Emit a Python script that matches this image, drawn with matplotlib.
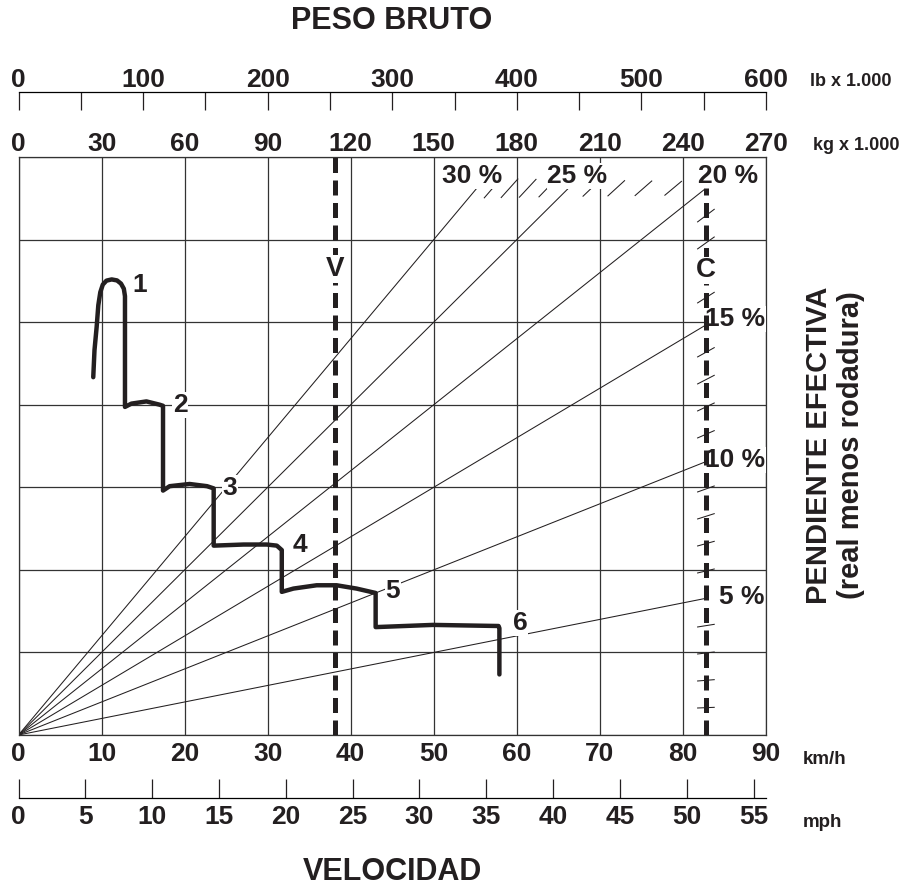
import numpy as np
import matplotlib.pyplot as plt

plt.rcParams['font.family'] = ['Liberation Sans', 'DejaVu Sans']
plt.rcParams['font.weight'] = 'bold'
ink = '#231f20'

# horizontal position: speed (km/h); the same position is gross weight, 30 kg x 1000 per 10 km/h
kmh_ticks = [0, 10, 20, 30, 40, 50, 60, 70, 80, 90]
kg_ticks = [0, 30, 60, 90, 120, 150, 180, 210, 240, 270]
lb_ticks = [0, 50, 100, 150, 200, 250, 300, 350, 400, 450, 500, 550, 600]
lb_labels = ['0', '', '100', '', '200', '', '300', '', '400', '', '500', '', '600']
mph_ticks = [0, 5, 10, 15, 20, 25, 30, 35, 40, 45, 50, 55]
# vertical: rimpull, kg x 1000 (grid every 7.5)
fuerza_ticks = [0, 7.5, 15, 22.5, 30, 37.5, 45, 52.5]

grades = [5, 10, 15, 20, 25, 30]
grade_marks = [1, 2, 3, 4, 6, 7, 8, 9, 11, 12, 13, 14, 16, 17, 18, 19,
               21, 22, 23, 24, 26, 27, 28, 29]
peso_vacio = 114.5     # V, kg x 1000
peso_cargado = 248.3   # C, kg x 1000
kg_por_lb = 0.45       # the chart's own lb scale puts 600 lb at 270 kg

# gear curve (km/h, rimpull kg x 1000)
gear_kmh = [9.0, 9.15, 9.41, 9.61, 9.85, 10.15, 10.59, 11.22, 11.86, 12.34,
            12.68, 12.82, 12.82,
            13.6, 15.4, 17.0, 17.4, 17.4,
            18.2, 20.6, 22.7, 23.5, 23.5,
            27.1, 29.9, 31.1, 31.7, 31.7,
            33.1, 35.9, 38.3, 40.7, 43.0, 43.0,
            49.9, 57.8, 57.9, 57.9]
gear_fuerza = [32.5, 34.96, 37.07, 39.04, 40.22, 40.91, 41.27, 41.38, 41.29,
               41.0, 40.54, 39.86, 29.8,
               30.1, 30.3, 30.0, 29.9, 22.2,
               22.6, 22.8, 22.6, 22.4, 17.2,
               17.3, 17.3, 17.2, 16.8, 13.0,
               13.3, 13.6, 13.6, 13.3, 12.9, 9.8,
               10.0, 9.9, 9.7, 5.5]
gear_names = ['1', '2', '3', '4', '5', '6']


def kmh_to_kg(x):
    return np.asarray(x) * 3.0


def kg_to_kmh(w):
    return np.asarray(w) / 3.0


def kmh_to_lb(x):
    return np.asarray(x) * 3.0 / kg_por_lb


def lb_to_kmh(p):
    return np.asarray(p) * kg_por_lb / 3.0


def kmh_to_mph(x):
    return np.asarray(x) / 1.609344


def mph_to_kmh(m):
    return np.asarray(m) * 1.609344


W, H = 909, 888
fig = plt.figure(figsize=(W / 100, H / 100), dpi=100)
ax = fig.add_axes([18.5 / W, (H - 735) / H, (766 - 18.5) / W, (735 - 157) / H])
ax.set_xlim(0, 90)
ax.set_ylim(0, 52.5)
ax.set_xticks(kmh_ticks)
ax.set_yticks(fuerza_ticks)
ax.set_yticklabels([])
ax.tick_params(axis='x', length=0, pad=5, labelsize=19, colors=ink)
ax.tick_params(axis='y', length=0)
ax.grid(True, color='#333333', lw=0.9, zorder=1)
for s in ax.spines.values():
    s.set_linewidth(0.9)
    s.set_color('#333333')

# top scales
sec_kg = ax.secondary_xaxis('top', functions=(kmh_to_kg, kg_to_kmh))
sec_kg.set_xticks(kg_ticks)
sec_kg.tick_params(length=0, pad=1, labelsize=19, colors=ink)
sec_kg.spines['top'].set_visible(False)

sec_lb = ax.secondary_xaxis(1 + 65 / 578, functions=(kmh_to_lb, lb_to_kmh))
sec_lb.set_xticks(lb_ticks, labels=lb_labels)
sec_lb.tick_params(direction='in', length=13, width=0.9, pad=0, labelsize=19,
                   colors=ink)
sec_lb.spines['top'].set_linewidth(0.9)

# bottom mph scale
sec_mph = ax.secondary_xaxis(-63 / 578, functions=(kmh_to_mph, mph_to_kmh))
sec_mph.set_xticks(mph_ticks)
sec_mph.tick_params(direction='in', length=14, width=0.9, pad=5, labelsize=19,
                    colors=ink)
sec_mph.spines['bottom'].set_linewidth(0.9)

# grade lines from the origin, rimpull = grade x weight
for g in grades:
    w_end = peso_cargado * min(1.0, 20.0 / g)
    w = np.array([0.0, w_end])
    ax.plot(kg_to_kmh(w), g / 100 * w, color=ink, lw=0.75, zorder=2)

# 1 % marks along C and along the 20 % level
for g in grade_marks:
    if g < 20:
        w0 = peso_cargado
    else:
        w0 = 0.2 * peso_cargado / (g / 100)
    w = np.array([w0 - 3.0, w0 + 3.0])
    ax.plot(kg_to_kmh(w), g / 100 * w, color=ink, lw=0.75, zorder=2)

box = dict(facecolor='white', edgecolor='none', pad=0.5)
grade_pos = {30: (54.66, 50.76), 25: (67.3, 50.76), 20: (85.48, 50.76),
             15: (86.26, 37.77), 10: (86.26, 24.97), 5: (87.05, 12.53)}
for g in grades:
    gx, gy = grade_pos[g]
    ax.text(gx, gy, f'{g} %', ha='center', va='center', fontsize=19,
            color=ink, bbox=box, zorder=3)

# empty (V) and loaded (C) weight lines
ax.plot(kg_to_kmh([peso_vacio, peso_vacio]), [0, 52.5], color=ink, lw=3.6,
        dashes=(3.0, 1.5), solid_capstyle='butt', zorder=5)
ax.plot(kg_to_kmh([peso_cargado, peso_cargado]), [0, 0.2 * peso_cargado],
        color=ink, lw=3.6, dashes=(3.0, 1.5), solid_capstyle='butt', zorder=5)
ax.text(kg_to_kmh(peso_vacio), 42.3, 'V', ha='center', va='center',
        fontsize=20, color=ink, bbox=box, zorder=7)
ax.text(kg_to_kmh(peso_cargado), 42.2, 'C', ha='center', va='center',
        fontsize=20, color=ink, bbox=box, zorder=7)

# gear curve
ax.plot(gear_kmh, gear_fuerza, color=ink, lw=3.2, solid_joinstyle='round',
        solid_capstyle='round', zorder=4)
gear_pos = [(14.63, 40.86), (19.44, 29.97), (25.46, 22.43), (33.89, 17.25),
            (45.09, 13.12), (60.38, 10.17)]
for name, (gx, gy) in zip(gear_names, gear_pos):
    ax.text(gx, gy, name, ha='center', va='center', fontsize=19, color=ink,
            bbox=box, zorder=3)

# titles and units
fig.text(392 / W, 1 - 21 / H, 'PESO BRUTO', ha='center', va='center',
         fontsize=22, color=ink)
fig.text(392 / W, 1 - 872 / H, 'VELOCIDAD', ha='center', va='center',
         fontsize=22, color=ink)
fig.text(835 / W, 1 - 445 / H, 'PENDIENTE EFECTIVA\n(real menos rodadura)',
         rotation=90, ha='center', va='center', fontsize=21, color=ink,
         linespacing=1.15, multialignment='center')
fig.text(810 / W, 1 - 81 / H, 'lb x 1.000', ha='left', va='center',
         fontsize=13, color=ink)
fig.text(813 / W, 1 - 146 / H, 'kg x 1.000', ha='left', va='center',
         fontsize=13, color=ink)
fig.text(803 / W, 1 - 759 / H, 'km/h', ha='left', va='center',
         fontsize=13.5, color=ink)
fig.text(803 / W, 1 - 822 / H, 'mph', ha='left', va='center',
         fontsize=13.5, color=ink)

fig.savefig('out.png', dpi=100)
